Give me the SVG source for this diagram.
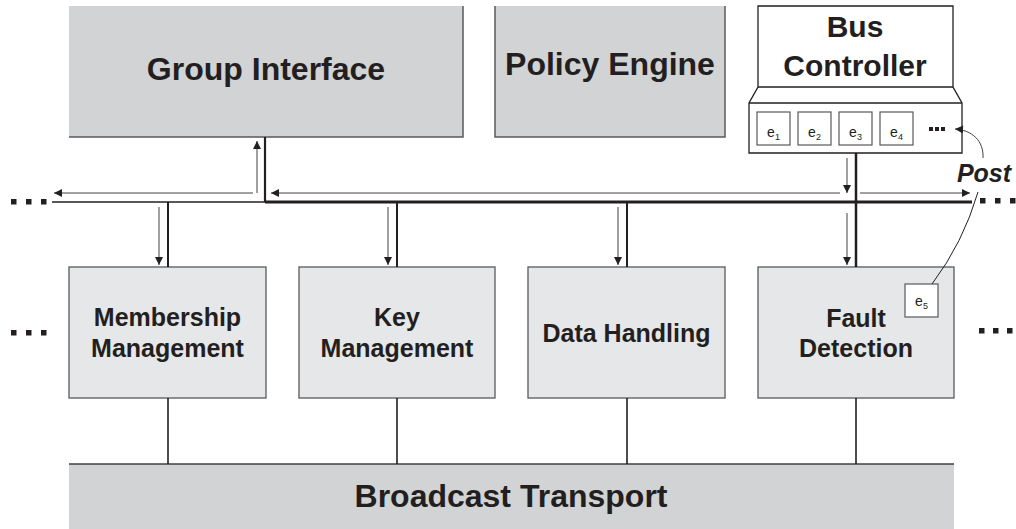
<svg xmlns="http://www.w3.org/2000/svg" width="1016" height="529" viewBox="0 0 1016 529">
  <style>
    .lbl{font-family:"Liberation Sans",Arial,Helvetica,sans-serif;font-weight:bold;fill:#231f20;text-anchor:middle}
    .big{font-size:32px}
    .ctl{font-size:30px}
    .mid{font-size:25px}
    .ev{font-family:"Liberation Sans",Arial,Helvetica,sans-serif;font-size:14px;fill:#231f20;text-anchor:middle}
    .sub{font-size:9px}
    .top{fill:#d1d3d4}
    .mod{fill:#e6e7e8;stroke:#58595b;stroke-width:1.3}
    .edgeline{stroke:#58595b;stroke-width:1.5;fill:none}
    .wire{stroke:#231f20;fill:none}
    .arr{stroke:#414042;stroke-width:1;fill:none;marker-end:url(#ah)}
    .slot{fill:#fff;stroke:#58595b;stroke-width:1.2}
    .dot{fill:#231f20}
  </style>
  <defs>
    <marker id="ah" viewBox="0 0 10 10" refX="10" refY="5" markerWidth="9" markerHeight="8" markerUnits="userSpaceOnUse" orient="auto">
      <path d="M0,0 L10,5 L0,10 Z" fill="#231f20"/>
    </marker>
  </defs>

  <!-- upper layer -->
  <g id="group-interface">
    <rect class="top" x="69" y="6" width="394" height="131"/>
    <path class="edgeline" d="M463,6 V137 H69"/>
    <text class="lbl big" x="266" y="80">Group Interface</text>
  </g>

  <g id="policy-engine">
    <rect class="top" x="495" y="6" width="230" height="131"/>
    <path class="edgeline" d="M495,6 V137 H725 V6"/>
    <text class="lbl big" x="610" y="75">Policy Engine</text>
  </g>

  <g id="bus-controller">
    <path d="M758,6 H953 V87 L962,103 V153 H749 V103 L758,87 Z" fill="#fff" stroke="#231f20" stroke-width="1.3"/>
    <path d="M758,87 H953 M749,103 H962" stroke="#231f20" stroke-width="1.3" fill="none"/>
    <text class="lbl ctl" x="855" y="37">Bus</text>
    <text class="lbl ctl" x="855" y="76">Controller</text>
    <rect class="slot" x="757" y="112" width="33" height="33"/>
    <rect class="slot" x="798" y="112" width="33" height="33"/>
    <rect class="slot" x="839" y="112" width="33" height="33"/>
    <rect class="slot" x="880" y="112" width="33" height="33"/>
    <text class="ev" x="773.5" y="137">e<tspan class="sub" dy="3">1</tspan></text>
    <text class="ev" x="814.5" y="137">e<tspan class="sub" dy="3">2</tspan></text>
    <text class="ev" x="855.5" y="137">e<tspan class="sub" dy="3">3</tspan></text>
    <text class="ev" x="896.5" y="137">e<tspan class="sub" dy="3">4</tspan></text>
    <rect class="dot" x="929" y="127" width="4" height="4"/>
    <rect class="dot" x="935" y="127" width="4" height="4"/>
    <rect class="dot" x="941" y="127" width="4" height="4"/>
  </g>

  <!-- service modules -->
  <g id="membership-management">
    <rect class="mod" x="69" y="267" width="197" height="131"/>
    <text class="lbl mid" x="167.5" y="326">Membership</text>
    <text class="lbl mid" x="167.5" y="357">Management</text>
  </g>

  <g id="key-management">
    <rect class="mod" x="299" y="267" width="196" height="131"/>
    <text class="lbl mid" x="397" y="326">Key</text>
    <text class="lbl mid" x="397" y="357">Management</text>
  </g>

  <g id="data-handling">
    <rect class="mod" x="528" y="267" width="197" height="131"/>
    <text class="lbl mid" x="626.5" y="342">Data Handling</text>
  </g>

  <g id="fault-detection">
    <rect class="mod" x="758" y="267" width="196" height="131"/>
    <text class="lbl mid" x="856" y="327">Fault</text>
    <text class="lbl mid" x="856" y="357">Detection</text>
    <rect class="slot" x="905" y="284" width="33" height="33"/>
    <text class="ev" x="921.5" y="306">e<tspan class="sub" dy="3">5</tspan></text>
  </g>

  <!-- transport layer -->
  <g id="broadcast-transport">
    <rect class="top" x="69" y="464" width="885" height="65"/>
    <path d="M69,464 H954" stroke="#414042" stroke-width="1.5" fill="none"/>
    <text class="lbl big" x="511" y="507">Broadcast Transport</text>
  </g>

  <!-- bus wiring and event flow -->
  <g id="connectors">
    <path class="wire" d="M52,202 H265" stroke-width="1.5"/>
    <path class="wire" d="M265,202 H972" stroke-width="2.8"/>

    <path class="wire" d="M265,137 V202" stroke-width="2.2"/>
    <path class="wire" d="M856,153 V267" stroke-width="2.5"/>
    <path class="wire" d="M168,202 V267 M397,202 V267 M627,202 V267" stroke-width="2"/>
    <path class="wire" d="M168,398 V464 M397,398 V464 M627,398 V464 M856,398 V464" stroke-width="1.6"/>

    <path class="arr" d="M257,193 V141"/>
    <path class="arr" d="M253,193 H54"/>
    <path class="arr" d="M840,193 H271"/>
    <path class="arr" d="M860,193 H970"/>
    <path class="arr" d="M847,158 V193"/>
    <path class="arr" d="M159,207 V265"/>
    <path class="arr" d="M388,207 V265"/>
    <path class="arr" d="M618,207 V265"/>
    <path class="arr" d="M847,213 V265"/>

    <path d="M932,284 Q963,243 978,192" stroke="#231f20" stroke-width="1" fill="none"/>
    <path class="arr" d="M983,158 C984,141 972,130 955,129"/>
    <text class="lbl" x="984" y="182" style="font-size:25px;font-style:italic">Post</text>
  </g>

  <!-- continuation marks -->
  <g id="continuation">
    <rect class="dot" x="11" y="199" width="5.5" height="5.5"/>
    <rect class="dot" x="26" y="199" width="5.5" height="5.5"/>
    <rect class="dot" x="41" y="199" width="5.5" height="5.5"/>
    <rect class="dot" x="980" y="198" width="5.5" height="5.5"/>
    <rect class="dot" x="995" y="198" width="5.5" height="5.5"/>
    <rect class="dot" x="1010" y="198" width="5.5" height="5.5"/>
    <rect class="dot" x="11" y="330" width="5.5" height="5.5"/>
    <rect class="dot" x="26" y="330" width="5.5" height="5.5"/>
    <rect class="dot" x="41" y="330" width="5.5" height="5.5"/>
    <rect class="dot" x="979" y="328" width="5.5" height="5.5"/>
    <rect class="dot" x="993" y="328" width="5.5" height="5.5"/>
    <rect class="dot" x="1007" y="328" width="5.5" height="5.5"/>
  </g>
</svg>
